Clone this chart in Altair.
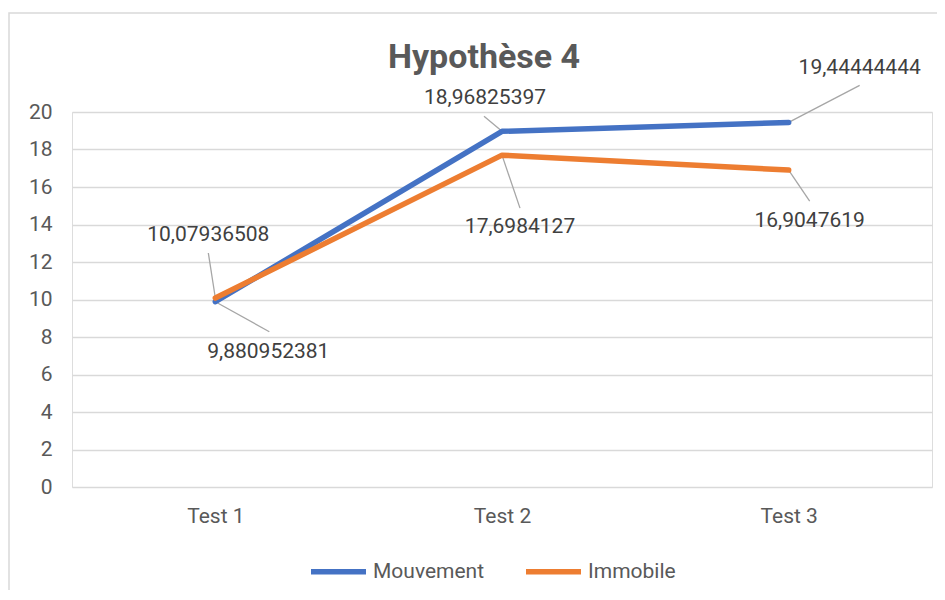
import altair as alt
import pandas as pd

# ---- data ----
categories = ["Test 1", "Test 2", "Test 3"]
series_names = ["Mouvement", "Immobile"]
mouvement = [9.880952381, 18.96825397, 19.44444444]
immobile = [10.07936508, 17.6984127, 16.9047619]
y_ticks = [0, 2, 4, 6, 8, 10, 12, 14, 16, 18, 20]
colors = ["#4472C4", "#ED7D31"]

# ---- label layout: pixel offsets from each point (label dx, dy, leader end dx, dy) ----
label_layout = {
    ("Mouvement", "Test 1"): (53, 50, 54, 30),
    ("Immobile", "Test 1"): (-7, -63, -7, -45),
    ("Mouvement", "Test 2"): (-17, -33, -18, -15),
    ("Immobile", "Test 2"): (18, 72, 18, 53),
    ("Mouvement", "Test 3"): (71, -54, 71, -37),
    ("Immobile", "Test 3"): (21, 51, 21, 31),
}

rows = []
for name, vals in zip(series_names, [mouvement, immobile]):
    for cat, v in zip(categories, vals):
        rows.append({"category": cat, "series": name, "value": v,
                     "label": str(v).replace(".", ",")})
df = pd.DataFrame(rows)

FONT = "Roboto"
FS = 21

x_enc = alt.X("category:N",
              scale=alt.Scale(type="point", domain=categories, padding=0.5),
              axis=alt.Axis(title=None, labelAngle=0, domain=False, ticks=False,
                            grid=False, labelPadding=18, labelFont=FONT,
                            labelFontSize=FS, labelColor="#595959"))
y_enc = alt.Y("value:Q",
              scale=alt.Scale(domain=[0, 20], nice=False),
              axis=alt.Axis(title=None, values=y_ticks, domain=False, ticks=False,
                            grid=True, gridColor="#D9D9D9", gridWidth=1.5,
                            labelPadding=20, labelFont=FONT, labelFontSize=FS,
                            labelColor="#595959"))
color_enc = alt.Color("series:N",
                      scale=alt.Scale(domain=series_names, range=colors),
                      legend=alt.Legend(title=None, orient="none", direction="horizontal",
                                        legendX=236, legendY=429,
                                        symbolType="stroke", symbolStrokeWidth=5.5,
                                        symbolSize=3025, labelFont=FONT,
                                        labelFontSize=FS, labelColor="#595959",
                                        labelOffset=4, columnPadding=30))

base = alt.Chart(df)

border = alt.Chart(pd.DataFrame({"a": [0]})).mark_rect(
    filled=False, stroke="#D9D9D9", strokeWidth=1.5
).encode(x=alt.value(-63), x2=alt.value(900), y=alt.value(-99), y2=alt.value(560))

layers = [border]

# leader lines
for (s, c), (ldx, ldy, ex, ey) in label_layout.items():
    layers.append(
        base.transform_filter((alt.datum.series == s) & (alt.datum.category == c))
        .mark_rule(color="#A6A6A6", strokeWidth=1.3, x2Offset=ex, y2Offset=ey)
        .encode(x=x_enc, y=y_enc, x2=alt.X2("category"), y2=alt.Y2("value"))
    )

# lines
for s in series_names:
    layers.append(
        base.transform_filter(alt.datum.series == s)
        .mark_line(strokeWidth=5.5, strokeCap="round", strokeJoin="round")
        .encode(x=x_enc, y=y_enc, color=color_enc)
    )

# data labels
for (s, c), (ldx, ldy, ex, ey) in label_layout.items():
    layers.append(
        base.transform_filter((alt.datum.series == s) & (alt.datum.category == c))
        .mark_text(dx=ldx, dy=ldy, align="center", baseline="middle", font=FONT,
                   fontSize=FS, color="#404040")
        .encode(x=x_enc, y=y_enc, text="label:N")
    )

# the title is placed above the bounds of the content, which include the frame
# (frame top lies ~100px above the plot), so a negative offset brings it down
chart = alt.layer(*layers).properties(
    width=860, height=375,
    title=alt.TitleParams("Hypothèse 4", font=FONT, fontSize=34, fontWeight="bold",
                          color="#595959", anchor="middle", frame="group",
                          dx=-18, offset=-63),
    autosize=alt.AutoSizeParams(type="none"),
    padding={"left": 64, "top": 104, "right": 5, "bottom": 103},
).configure_view(stroke=None).configure(background="white")

chart.save("out.html", embed_options={"renderer": "svg", "actions": False})
